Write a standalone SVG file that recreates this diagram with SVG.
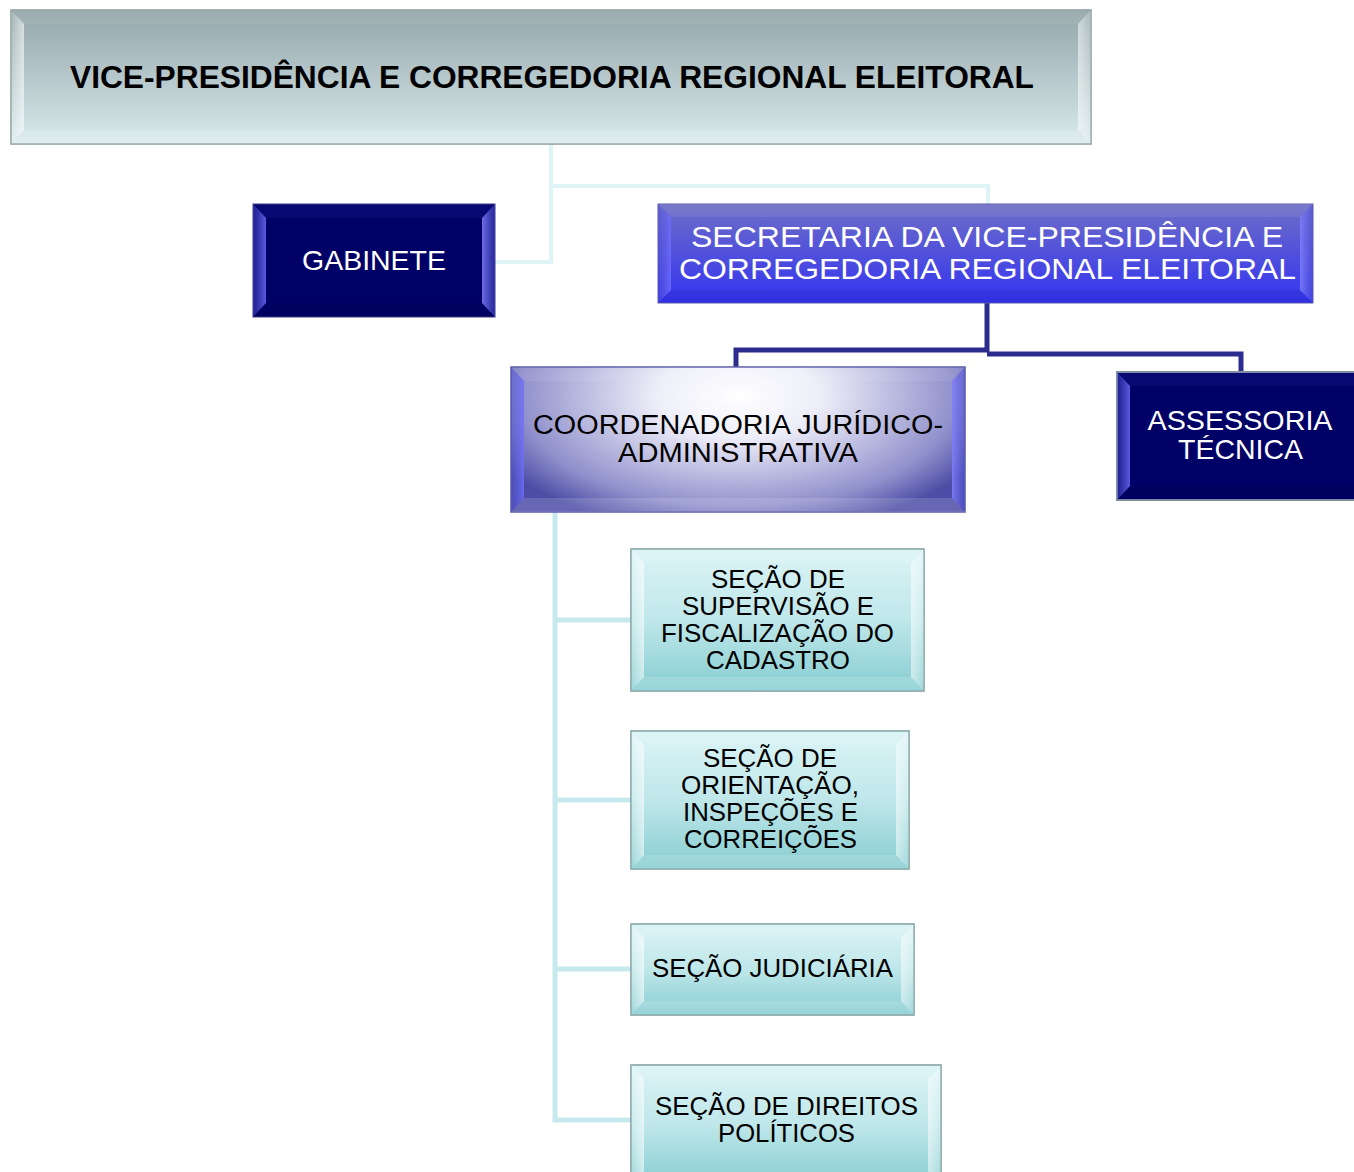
<svg xmlns="http://www.w3.org/2000/svg" width="1354" height="1172" viewBox="0 0 1354 1172">
<defs>
<linearGradient id="gTitle" x1="0" y1="0" x2="0" y2="1">
<stop offset="0" stop-color="#93a6a9"/><stop offset="1" stop-color="#d9eaec"/>
</linearGradient>
<linearGradient id="gSec" x1="0" y1="0" x2="0" y2="1">
<stop offset="0" stop-color="#6e6ec6"/><stop offset="1" stop-color="#3333f2"/>
</linearGradient>
<radialGradient id="gCoord" cx="0.5" cy="0.2" r="0.6" gradientTransform="translate(0.5,0.2) scale(1,1.6) translate(-0.5,-0.2)">
<stop offset="0" stop-color="#ffffff"/><stop offset="0.3" stop-color="#eeeef9"/><stop offset="0.8" stop-color="#9090cc"/><stop offset="1" stop-color="#4d4da6"/>
</radialGradient>
<linearGradient id="gTeal" x1="0" y1="0" x2="0" y2="1">
<stop offset="0" stop-color="#dcf4f6"/><stop offset="0.5" stop-color="#bfe7ea"/><stop offset="1" stop-color="#86cdd1"/>
</linearGradient>
<linearGradient id="gSideL" x1="0" y1="0" x2="1" y2="0">
<stop offset="0" stop-color="#fff" stop-opacity="0.15"/><stop offset="1" stop-color="#fff" stop-opacity="0.6"/>
</linearGradient>
<linearGradient id="gSideR" x1="0" y1="0" x2="1" y2="0">
<stop offset="0" stop-color="#fff" stop-opacity="0.55"/><stop offset="1" stop-color="#fff" stop-opacity="0.2"/>
</linearGradient>
<linearGradient id="gBlueL" x1="0" y1="0" x2="1" y2="0">
<stop offset="0" stop-color="#5050d0" stop-opacity="0.4"/><stop offset="1" stop-color="#7070ff" stop-opacity="0.8"/>
</linearGradient>
<linearGradient id="gBlueR" x1="0" y1="0" x2="1" y2="0">
<stop offset="0" stop-color="#8080ff" stop-opacity="0.85"/><stop offset="1" stop-color="#5050d0" stop-opacity="0.5"/>
</linearGradient>
</defs>
<style>
.lt{fill:url(#gSideL)} .rt{fill:url(#gSideR)} .tp{fill:#fff;fill-opacity:0.08} .bt{fill:#fff;fill-opacity:0.15}
.blt{fill:url(#gBlueL)} .brt{fill:url(#gBlueR)} .btp{fill:#6060ff;fill-opacity:0.08} .bbt{fill:#000;fill-opacity:0.06}
.navy{fill:#000066}
text{font-family:"Liberation Sans",Arial,sans-serif;text-anchor:middle}
.w{fill:#fff} .k{fill:#000}
.c1{fill:none;stroke:#dff4f6;stroke-width:4}
.c2{fill:none;stroke:#2c2c8e;stroke-width:5}
.c3{fill:none;stroke:#c6e9ed;stroke-width:5}
</style>

<g id="connectors">
<polyline class="c1" points="551,144 551,262 495,262"/>
<polyline class="c1" points="551,186 988,186 988,205"/>
<polyline class="c2" points="987,303 987,352"/>
<polyline class="c2" points="987,350 736,350 736,368"/>
<polyline class="c2" points="987,354 1241,354 1241,373"/>
<polyline class="c3" points="555,512 555,1120 631,1120"/>
<line class="c3" x1="555" y1="620" x2="631" y2="620"/>
<line class="c3" x1="555" y1="800" x2="631" y2="800"/>
<line class="c3" x1="555" y1="969" x2="631" y2="969"/>
</g>

<g id="vice-presidencia">
<rect x="11" y="10" width="1080" height="134" fill="url(#gTitle)" stroke="#8a9a9c" stroke-width="1.5"/>
<polygon class="tp" points="11,10 1091,10 1078,24 24,24"/>
<polygon class="lt" points="11,10 24,24 24,130 11,144"/>
<polygon class="rt" points="1091,10 1091,144 1078,130 1078,24"/>
<polygon class="bt" points="11,144 24,130 1078,130 1091,144"/>
<text x="552" y="88" font-size="32" font-weight="bold" class="k" textLength="964" lengthAdjust="spacingAndGlyphs">VICE-PRESIDÊNCIA E CORREGEDORIA REGIONAL ELEITORAL</text>
</g>

<g id="gabinete">
<rect x="253" y="204" width="242" height="113" class="navy" stroke="#3a3a8a" stroke-width="1"/>
<polygon class="btp" points="253,204 495,204 482,218 266,218"/>
<polygon class="blt" points="253,204 266,218 266,303 253,317"/>
<polygon class="brt" points="495,204 495,317 482,303 482,218"/>
<polygon class="bbt" points="253,317 266,303 482,303 495,317"/>
<text x="374" y="270" font-size="28" class="w" textLength="144" lengthAdjust="spacingAndGlyphs">GABINETE</text>
</g>

<g id="secretaria">
<rect x="658" y="204" width="655" height="99" fill="url(#gSec)" stroke="#5a5ab0" stroke-width="1"/>
<polygon class="tp" points="658,204 1313,204 1300,217 671,217"/>
<polygon class="blt" points="658,204 671,217 671,290 658,303"/>
<polygon class="brt" points="1313,204 1313,303 1300,290 1300,217"/>
<polygon class="bbt" points="658,303 671,290 1300,290 1313,303"/>
<text x="987" y="247" font-size="30" class="w" textLength="592" lengthAdjust="spacingAndGlyphs">SECRETARIA DA VICE-PRESIDÊNCIA E</text>
<text x="987.5" y="279" font-size="30" class="w" textLength="617" lengthAdjust="spacingAndGlyphs">CORREGEDORIA REGIONAL ELEITORAL</text>
</g>

<g id="coordenadoria">
<rect x="511" y="367" width="454" height="145" fill="url(#gCoord)" stroke="#5a5aa8" stroke-width="1.5"/>
<polygon class="tp" points="511,367 965,367 952,381 524,381"/>
<polygon class="blt" points="511,367 524,381 524,498 511,512"/>
<polygon class="brt" points="965,367 965,512 952,498 952,381"/>
<polygon class="bt" points="511,512 524,498 952,498 965,512"/>
<text x="738" y="434" font-size="27" class="k" textLength="410" lengthAdjust="spacingAndGlyphs">COORDENADORIA JURÍDICO-</text>
<text x="738" y="462" font-size="27" class="k" textLength="240" lengthAdjust="spacingAndGlyphs">ADMINISTRATIVA</text>
</g>

<g id="assessoria">
<rect x="1117" y="372" width="250" height="128" class="navy" stroke="#8090a0" stroke-width="2"/>
<polygon class="btp" points="1117,372 1367,372 1354,386 1130,386"/>
<polygon class="blt" points="1117,372 1130,386 1130,486 1117,500"/>
<polygon class="bbt" points="1117,500 1130,486 1354,486 1367,500"/>
<text x="1240" y="430" font-size="28" class="w" textLength="185" lengthAdjust="spacingAndGlyphs">ASSESSORIA</text>
<text x="1240.5" y="459" font-size="28" class="w" textLength="125" lengthAdjust="spacingAndGlyphs">TÉCNICA</text>
</g>

<g id="secao-supervisao">
<rect x="631" y="549" width="293" height="142" fill="url(#gTeal)" stroke="#7a9c9e" stroke-width="1.5"/>
<polygon class="tp" points="631,549 924,549 911,563 644,563"/>
<polygon class="lt" points="631,549 644,563 644,677 631,691"/>
<polygon class="rt" points="924,549 924,691 911,677 911,563"/>
<polygon class="bt" points="631,691 644,677 911,677 924,691"/>
<text x="778" y="588" font-size="25" class="k" textLength="134" lengthAdjust="spacingAndGlyphs">SEÇÃO DE</text>
<text x="778" y="615" font-size="25" class="k" textLength="192" lengthAdjust="spacingAndGlyphs">SUPERVISÃO E</text>
<text x="777.5" y="642" font-size="25" class="k" textLength="233" lengthAdjust="spacingAndGlyphs">FISCALIZAÇÃO DO</text>
<text x="778" y="669" font-size="25" class="k" textLength="144" lengthAdjust="spacingAndGlyphs">CADASTRO</text>
</g>

<g id="secao-orientacao">
<rect x="631" y="731" width="278" height="138" fill="url(#gTeal)" stroke="#7a9c9e" stroke-width="1.5"/>
<polygon class="tp" points="631,731 909,731 896,745 644,745"/>
<polygon class="lt" points="631,731 644,745 644,855 631,869"/>
<polygon class="rt" points="909,731 909,869 896,855 896,745"/>
<polygon class="bt" points="631,869 644,855 896,855 909,869"/>
<text x="770" y="767" font-size="25" class="k" textLength="134" lengthAdjust="spacingAndGlyphs">SEÇÃO DE</text>
<text x="770" y="794" font-size="25" class="k" textLength="178" lengthAdjust="spacingAndGlyphs">ORIENTAÇÃO,</text>
<text x="770.5" y="821" font-size="25" class="k" textLength="175" lengthAdjust="spacingAndGlyphs">INSPEÇÕES E</text>
<text x="770.5" y="848" font-size="25" class="k" textLength="173" lengthAdjust="spacingAndGlyphs">CORREIÇÕES</text>
</g>

<g id="secao-judiciaria">
<rect x="631" y="924" width="283" height="91" fill="url(#gTeal)" stroke="#7a9c9e" stroke-width="1.5"/>
<polygon class="tp" points="631,924 914,924 901,938 644,938"/>
<polygon class="lt" points="631,924 644,938 644,1001 631,1015"/>
<polygon class="rt" points="914,924 914,1015 901,1001 901,938"/>
<polygon class="bt" points="631,1015 644,1001 901,1001 914,1015"/>
<text x="772.5" y="977" font-size="26" class="k" textLength="241" lengthAdjust="spacingAndGlyphs">SEÇÃO JUDICIÁRIA</text>
</g>

<g id="secao-direitos">
<rect x="631" y="1065" width="310" height="120" fill="url(#gTeal)" stroke="#7a9c9e" stroke-width="1.5"/>
<polygon class="tp" points="631,1065 941,1065 928,1079 644,1079"/>
<polygon class="lt" points="631,1065 644,1079 644,1171 631,1185"/>
<polygon class="rt" points="941,1065 941,1185 928,1171 928,1079"/>
<text x="786.5" y="1115" font-size="26" class="k" textLength="263" lengthAdjust="spacingAndGlyphs">SEÇÃO DE DIREITOS</text>
<text x="786.5" y="1142" font-size="26" class="k" textLength="137" lengthAdjust="spacingAndGlyphs">POLÍTICOS</text>
</g>
</svg>
